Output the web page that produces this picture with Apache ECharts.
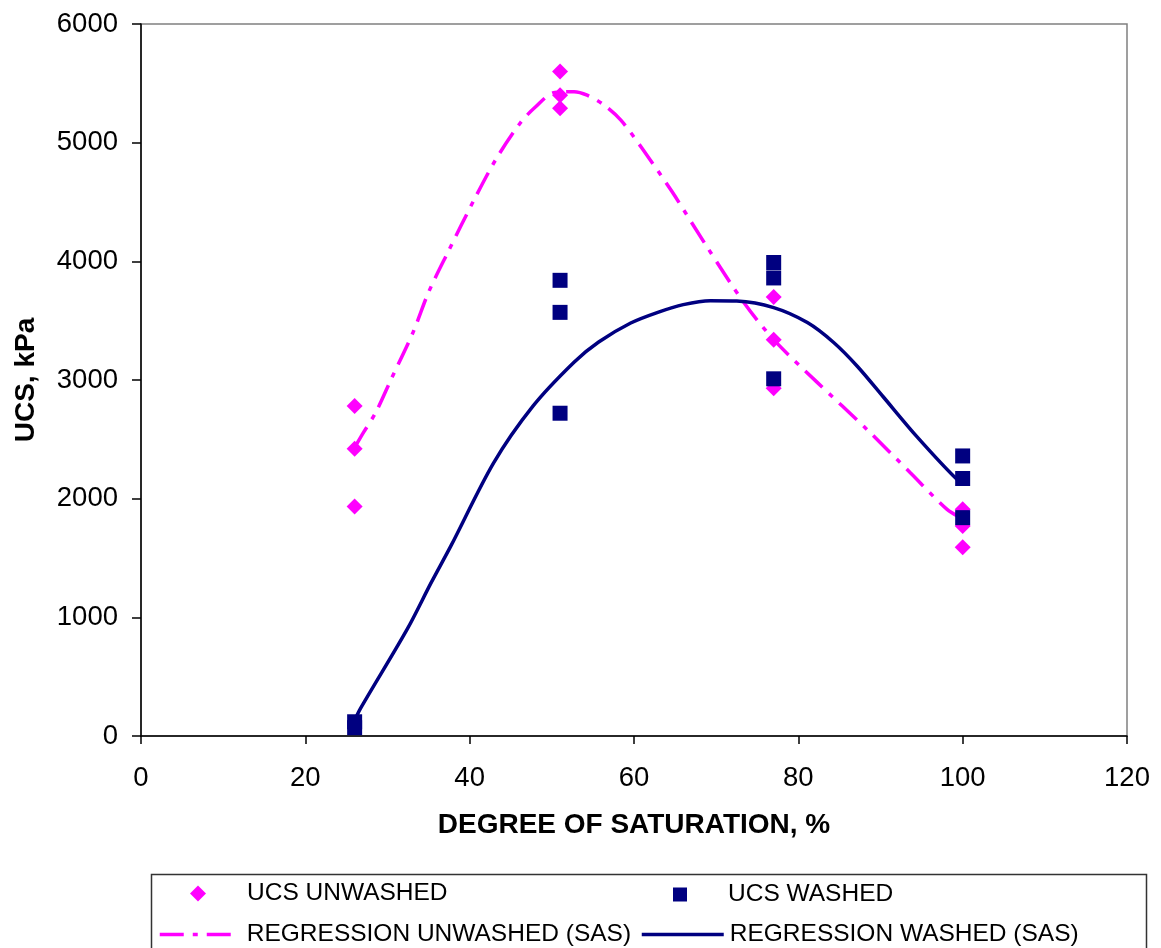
<!DOCTYPE html>
<html>
<head>
<meta charset="utf-8">
<script src="https://cdn.jsdelivr.net/npm/echarts@6/dist/echarts.min.js"></script>
<style>
html,body{margin:0;padding:0;background:#fff;}
#chart{width:1161px;height:948px;}
</style>
</head>
<body>
<div id="chart"></div>
<script>
// ---- data ----
const xTicks = [0, 20, 40, 60, 80, 100, 120];
const yTicks = [0, 1000, 2000, 3000, 4000, 5000, 6000];

const unwashedX = [26, 26, 26, 51, 51, 51, 77, 77, 77, 100, 100, 100];
const unwashedY = [2780, 2420, 1935, 5600, 5400, 5290, 3700, 3340, 2930, 1910, 1770, 1590];

const washedX = [26, 26, 51, 51, 51, 77, 77, 77, 100, 100, 100];
const washedY = [120, 70, 3840, 3570, 2720, 3990, 3860, 3010, 2360, 2170, 1840];

const regUnwashedX = [26, 27.1, 28.6, 30.4, 33.1, 35, 37.3, 40.7, 43.2, 46.2, 48, 50.2, 52.7, 54.3, 56.3, 58.4, 61, 64.6, 68.9, 73.3, 77, 82.3, 88.4, 93.6, 98.1, 100];
const regUnwashedY = [2430, 2560, 2730, 3000, 3400, 3740, 4070, 4540, 4860, 5170, 5300, 5420, 5430, 5400, 5320, 5190, 4950, 4590, 4120, 3660, 3340, 2980, 2580, 2220, 1910, 1830];

const regWashedX = [26, 26.7, 32.4, 35.3, 37.7, 42.9, 47.7, 52.7, 55.7, 59.6, 62.9, 66, 69.3, 72.5, 77, 81.1, 84.3, 87.2, 90.3, 94.4, 99.3, 100];
const regWashedY = [130, 230, 900, 1290, 1600, 2300, 2780, 3150, 3320, 3480, 3570, 3635, 3668, 3665, 3610, 3484, 3316, 3114, 2861, 2525, 2163, 2150];

const names = ['UCS UNWASHED', 'UCS WASHED', 'REGRESSION UNWASHED (SAS)', 'REGRESSION WASHED (SAS)'];

const zip = (xs, ys) => xs.map((x, i) => [x, ys[i]]);

const MAG = '#FF00FF';
const NAVY = '#000080';
const FONT = '"Liberation Sans", Arial, sans-serif';
const DASHDOT = [24, 9, 5, 9];

const chart = echarts.init(document.getElementById('chart'), null, {renderer: 'canvas'});

const legendText = (pad) => ({fontFamily: FONT, fontSize: 24.5, color: '#000', padding: [0, 0, 0, pad]});

chart.setOption({
  backgroundColor: '#fff',
  animation: false,
  grid: {
    left: 141, right: 34, top: 24, bottom: 212,
    show: true, borderColor: '#808080', borderWidth: 1.5, backgroundColor: 'transparent'
  },
  xAxis: {
    type: 'value',
    min: xTicks[0], max: xTicks[xTicks.length - 1], interval: 20,
    name: 'DEGREE OF SATURATION, %',
    nameLocation: 'middle',
    nameGap: 75,
    nameTextStyle: {fontFamily: FONT, fontSize: 28, fontWeight: 'bold', color: '#000'},
    axisLine: {show: true, lineStyle: {color: '#000', width: 1.5}},
    axisTick: {show: true, inside: false, length: 8, lineStyle: {color: '#000', width: 1.5}},
    axisLabel: {fontFamily: FONT, fontSize: 27.5, color: '#000', margin: 28, formatter: v => String(v)},
    splitLine: {show: false}
  },
  yAxis: {
    type: 'value',
    min: yTicks[0], max: yTicks[yTicks.length - 1], interval: 1000,
    name: 'UCS, kPa',
    nameLocation: 'middle',
    nameGap: 101,
    nameTextStyle: {fontFamily: FONT, fontSize: 28, fontWeight: 'bold', color: '#000'},
    axisLine: {show: true, lineStyle: {color: '#000', width: 1.5}},
    axisTick: {show: true, inside: false, length: 9, lineStyle: {color: '#000', width: 1.5}},
    axisLabel: {fontFamily: FONT, fontSize: 27.5, color: '#000', margin: 23, formatter: v => String(v)},
    splitLine: {show: false}
  },
  legend: [
    {
      data: [names[0]], left: 190, top: 881, padding: 0, itemGap: 0, selectedMode: false,
      itemWidth: 16, itemHeight: 16, textStyle: legendText(36)
    },
    {
      data: [names[1]], left: 673, top: 882, padding: 0, itemGap: 0, selectedMode: false,
      itemWidth: 14, itemHeight: 14, textStyle: legendText(36)
    },
    {
      data: [names[2]], left: 158, top: 922, padding: 0, itemGap: 0, selectedMode: false,
      itemWidth: 80, itemHeight: 14, textStyle: legendText(2),
      itemStyle: {opacity: 0},
      lineStyle: {width: 3.5, color: MAG, type: DASHDOT}
    },
    {
      data: [names[3]], left: 640, top: 922, padding: 0, itemGap: 0, selectedMode: false,
      itemWidth: 82, itemHeight: 14, textStyle: legendText(1),
      itemStyle: {opacity: 0},
      lineStyle: {width: 3.5, color: NAVY, type: 'solid'}
    }
  ],
  graphic: [{
    type: 'rect',
    left: 149, top: 872,
    shape: {width: 995, height: 100},
    style: {fill: 'none', stroke: '#333', lineWidth: 1.5},
    silent: true,
    z: -1
  }],
  series: [
    {
      name: names[2], type: 'line', data: zip(regUnwashedX, regUnwashedY),
      smooth: 0.3, showSymbol: false, symbol: 'none',
      lineStyle: {color: MAG, width: 3.5, type: DASHDOT},
      itemStyle: {color: MAG}, z: 2
    },
    {
      name: names[3], type: 'line', data: zip(regWashedX, regWashedY),
      smooth: 0.3, showSymbol: false, symbol: 'none',
      lineStyle: {color: NAVY, width: 3.5, type: 'solid'},
      itemStyle: {color: NAVY}, z: 2
    },
    {
      name: names[0], type: 'scatter', data: zip(unwashedX, unwashedY),
      symbol: 'diamond', symbolSize: 16,
      itemStyle: {color: MAG, opacity: 1}, z: 3
    },
    {
      name: names[1], type: 'scatter', data: zip(washedX, washedY),
      symbol: 'rect', symbolSize: 15,
      itemStyle: {color: NAVY, opacity: 1}, z: 4
    }
  ]
});
</script>
</body>
</html>
